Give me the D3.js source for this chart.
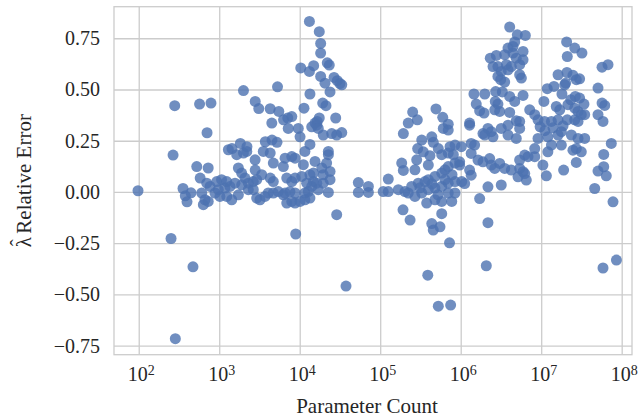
<!DOCTYPE html>
<html>
<head>
<meta charset="utf-8">
<script src="https://cdn.jsdelivr.net/npm/d3@7"></script>
<style>
  body { margin: 0; background: #fff; }
  svg { display: block; }
</style>
</head>
<body>
<svg id="chart" width="639" height="420"></svg>
<script>
// Parameter count of each model and the relative error of its λ̂ estimate
const paramCount = [
  2.0e3, 5.3e3, 2.8e2, 5.7e2, 7.9e2, 2.8e3, 3.1e3, 4.3e3, 5.5e3, 4.5e3, 6.3e3,
  1.32e4, 1.75e4, 1.82e4, 1.82e4, 2.2e4, 2.33e4, 1.03e4, 1.32e4, 1.49e4, 1.82e4,
  2.06e4, 2.67e4, 2.93e4, 3.16e4, 3.33e4, 1.34e4, 2.38e4, 1.13e4, 1.93e4, 2.12e4,
  7.97e3, 7.1e3, 2.8e4, 1.75e4, 1.65e4, 1.55e4,
  2.53e5, 2.89e5, 2.23e5, 4.93e5, 5.98e5, 7.0e5,
  4.06e6, 5.05e6, 6.35e6, 4.69e6, 4.46e6, 3.87e6, 5.95e6, 2.33e6, 2.77e6, 3.52e6,
  4.46e6, 4.9e6, 5.95e6, 5.4e6, 2.52e6, 2.9e6, 3.69e6, 4.25e6, 3.19e6, 3.87e6,
  5.4e6, 5.67e6, 2.9e6, 3.14e6, 3.52e6, 2.72e6, 3.29e6, 1.46e6, 1.99e6, 4.06e6,
  4.69e6, 5.95e6, 1.56e6, 1.72e6, 1.95e6, 2.69e6, 2.9e6, 2.65e6, 3.05e6, 4.06e6,
  7.2e6, 8.31e6, 1.29e6, 4.9e6, 5.4e6,
  2.07e7, 2.61e7, 3.21e7, 2.11e7, 5.7e7, 6.76e7, 1.62e7, 2.09e7, 2.48e7, 2.73e7,
  3.0e7, 2.01e7, 1.96e7, 1.19e7, 1.44e7, 1.81e7, 5.08e7, 1.08e7, 2.33e7, 2.65e7,
  3.0e7, 3.4e7, 2.15e7, 5.7e7, 6.16e7, 1.54e7, 1.7e7, 2.61e7, 2.87e7, 3.15e7,
  3.47e7, 5.08e7, 5.86e7, 9.13e6, 1.1e7, 1.34e7, 1.62e7, 2.11e7, 2.61e7, 2.87e7,
  9.7e6, 1.4e7, 1.87e7, 1.11e7,
  7.06e2, 2.67e2, 98, 2.52e2, 3.55e2, 4.46e2, 3.79e2, 3.98e2,
  1.44e3, 1.83e3, 2.21e3, 3.74e3, 4.53e3, 5.22e3, 7.2e3, 9.6e3,
  1.01e4, 1.41e4, 1.63e4, 1.7e4, 1.96e4, 2.5e4, 2.88e4, 3.33e4, 1.34e4,
  1.94e5, 3.28e5, 4.37e5, 4.56e5, 6.08e5, 7.0e5, 2.92e5, 5.27e5, 7.37e5, 8.5e5,
  2.88e4, 8.92e3, 2.35e5, 4.37e5, 4.56e5, 5.53e5, 5.81e5, 7.26e5, 1.92e5,
  1.29e6, 2.18e6, 2.4e6, 1.89e6, 1.99e6, 2.52e6, 3.19e6, 3.87e6, 3.87e6, 4.9e6,
  5.4e6, 9.13e6, 1.21e7, 1.62e7, 1.78e7, 2.37e7, 2.87e7, 3.47e7, 1.34e7, 1.78e7,
  2.48e7, 3.15e7, 2.73e7, 1.21e7, 8.31e6, 8.31e6, 1.05e7, 6.24e6, 6.86e6, 5.4e6,
  5.4e6, 5.95e6, 6.24e6, 6.53e6, 5.15e6, 4.25e6, 3.52e6, 1.16e7, 1.9e7, 2.73e7,
  7.43e7, 5.98e7, 5.98e7, 5.08e7, 6.44e7, 4.62e7, 7.8e7,
  1.02e6, 9.7e5, 9.7e5, 1.35e6, 1.49e6, 1.35e6, 1.64e6, 1.89e6, 2.29e6, 2.4e6,
  3.05e6, 2.65e6, 1.29e6, 1.35e6, 1.12e6, 2.18e6, 3.19e6, 1.72e6, 2.18e6,
  4.72e2, 2.85e2, 3.76e4, 3.9e5, 5.27e5, 7.5e5, 2.08e6, 5.86e7, 8.6e7,
  5.26e2, 7.3e2, 5.8e2, 7.0e2, 7.7e2, 6.07e2, 6.66e2, 6.35e2, 7.3e2, 9.32e2,
  1.07e3, 1.24e3, 9.75e2, 1.18e3, 1.36e3, 1.57e3, 1.02e3, 1.24e3, 1.43e3, 1.73e3,
  8.87e2, 1.73e3, 1.9e3, 2.09e3, 2.3e3, 2.65e3, 1.9e3, 2.3e3, 2.65e3, 2.92e3,
  3.21e3, 3.7e3, 4.07e3, 4.7e3, 5.42e3, 6.26e3, 6.58e3, 7.56e3, 8.75e3,
  1.3e3, 1.65e3, 2.0e3, 2.2e3, 3.53e3, 4.3e3, 2.79e3, 4.7e3, 6.26e3, 6.58e3,
  7.97e3, 8.75e3, 1.16e4, 1.11e4, 3.37e3, 4.3e3, 4.7e3, 2.92e3, 6.9e3, 7.97e3,
  8.75e3, 1.06e4, 1.34e4, 1.48e4, 1.48e4, 1.22e4, 1.41e4, 1.63e4, 1.96e4, 1.7e4,
  1.28e4, 1.16e4, 2.27e4, 6.9e3, 7.97e3, 8.75e3, 1.01e4, 1.16e4, 1.34e4,
  1.55e4, 2.16e4, 2.27e4, 2.27e4, 2.38e4, 1.88e4, 1.96e4, 2.38e4,
  5.35e4, 7.13e4, 5.35e4, 7.13e4, 1.09e5, 1.26e5, 1.26e5,
  1.85e5, 1.94e5, 2.7e5, 2.84e5, 4.15e5, 5.81e5, 7.0e5, 8.1e5, 1.68e5, 2.03e5,
  2.46e5, 2.97e5, 3.6e5, 3.96e5, 4.79e5, 5.81e5, 6.38e5, 7.0e5, 8.5e5, 2.23e5,
  2.7e5, 3.28e5, 3.96e5, 4.79e5, 5.81e5, 7.0e5, 8.5e5, 1.03e6, 3.78e5, 4.79e5,
  5.81e5, 7.74e5, 8.5e5, 7.0e5, 3.43e5, 3.96e5, 5.22e5, 6.38e5, 4.4e5, 7.8e5,
  3.12e5, 2.8e3
];

const relError = [
  0.495, 0.513, 0.421, 0.429, 0.434, 0.442, 0.407, 0.406, 0.393, 0.336, 0.352,
  0.832, 0.782, 0.725, 0.678, 0.630, 0.619, 0.605, 0.588, 0.616, 0.564,
  0.531, 0.559, 0.543, 0.529, 0.523, 0.478, 0.488, 0.409, 0.434, 0.421,
  0.368, 0.361, 0.361, 0.361, 0.344, 0.336,
  0.390, 0.352, 0.336, 0.405, 0.364, 0.331,
  0.805, 0.767, 0.764, 0.732, 0.710, 0.702, 0.686, 0.653, 0.666, 0.670,
  0.678, 0.653, 0.645, 0.621, 0.612, 0.612, 0.621, 0.612, 0.588, 0.596,
  0.572, 0.556, 0.564, 0.548, 0.536, 0.490, 0.488, 0.478, 0.478, 0.466,
  0.442, 0.471, 0.429, 0.396, 0.385, 0.442, 0.429, 0.401, 0.393, 0.388,
  0.401, 0.377, 0.336, 0.347, 0.344,
  0.732, 0.702, 0.678, 0.661, 0.609, 0.621, 0.572, 0.583, 0.569, 0.548,
  0.552, 0.531, 0.523, 0.504, 0.515, 0.478, 0.507, 0.442, 0.450, 0.466,
  0.458, 0.429, 0.426, 0.434, 0.422, 0.417, 0.401, 0.409, 0.393, 0.377,
  0.377, 0.377, 0.344, 0.352, 0.344, 0.344, 0.352, 0.352, 0.352, 0.344,
  0.318, 0.313, 0.323, 0.299,
  0.289, 0.180, 0.006, -0.227, 0.017, -0.004, -0.019, -0.048,
  0.212, 0.237, 0.221, 0.245, 0.253, 0.242, 0.310, 0.310,
  0.269, 0.318, 0.326, 0.310, 0.278, 0.285, 0.278, 0.290, 0.232,
  0.285, 0.253, 0.269, 0.242, 0.310, 0.302, 0.212, 0.212, 0.221, 0.229,
  -0.111, -0.205, -0.137, -0.154, -0.186, -0.170, -0.106, -0.248, -0.087,
  0.326, 0.310, 0.294, 0.285, 0.278, 0.269, 0.310, 0.278, 0.326, 0.261,
  0.310, 0.261, 0.269, 0.278, 0.294, 0.278, 0.261, 0.261, 0.229, 0.229,
  0.204, 0.196, 0.212, 0.196, 0.212, 0.172, 0.131, 0.180, 0.172, 0.156,
  0.115, 0.099, 0.090, 0.058, 0.074, 0.107, 0.115, 0.079, 0.107, 0.144,
  0.237, 0.183, 0.123, 0.102, 0.079, 0.017, -0.048,
  0.221, 0.147, 0.131, 0.237, 0.229, 0.188, 0.156, 0.147, 0.163, 0.131,
  0.139, 0.115, 0.107, 0.082, 0.041, 0.025, 0.034, -0.032, -0.150,
  -0.365, -0.716, -0.459, -0.406, -0.557, -0.552, -0.360, -0.371, -0.332,
  0.124, 0.117, 0.068, 0.043, 0.027, -0.005, -0.038, -0.062, -0.046, 0.051,
  0.060, 0.051, 0.011, 0.019, 0.027, 0.043, -0.022, -0.022, -0.038, -0.014,
  -0.005, 0.117, 0.092, 0.068, 0.043, 0.051, 0.035, 0.011, 0.011, -0.030,
  -0.038, -0.022, -0.005, -0.005, 0.002, -0.014, -0.005, 0.002, -0.005,
  0.206, 0.182, 0.190, 0.198, 0.198, 0.190, 0.157, 0.141, 0.124, 0.165,
  0.173, 0.165, 0.198, 0.133, 0.084, 0.068, 0.051, 0.060, 0.068, 0.051,
  0.068, 0.076, 0.084, 0.092, 0.051, 0.043, 0.027, 0.043, 0.043, 0.011,
  0.002, -0.005, -0.002, -0.054, -0.046, -0.054, -0.046, -0.038, -0.030,
  0.149, 0.141, 0.182, 0.198, 0.100, 0.117, 0.084, 0.060,
  0.046, 0.027, -0.002, -0.002, 0.002, 0.002, 0.063,
  0.141, 0.105, 0.108, 0.157, 0.177, 0.182, 0.190, 0.182, 0.011, 0.002,
  0.027, 0.043, 0.051, 0.060, 0.076, 0.092, 0.108, 0.124, 0.141, -0.005,
  -0.022, -0.005, 0.011, 0.019, 0.027, 0.043, 0.051, 0.051, -0.054, -0.038,
  -0.046, -0.046, -0.005, -0.005, 0.196, 0.131, -0.014, 0.060, 0.040, 0.084,
  0.020, 0.107
];

const xTickExponents = [2, 3, 4, 5, 6, 7, 8];
const yTickValues = [-0.75, -0.5, -0.25, 0, 0.25, 0.5, 0.75];
const xDomain = [49.3, 1.343e8];
const yDomain = [-0.794, 0.904];
const xTitle = "Parameter Count";
const yTitle = "Relative Error";

const W = 639, H = 420;
const margin = { top: 6.7, right: 7, bottom: 65.3, left: 114 };
const plotW = W - margin.left - margin.right;
const plotH = H - margin.top - margin.bottom;

const FONT = "'Liberation Serif', 'Times New Roman', Times, serif";
const GRID = "#cccccc";
const INK = "#262626";
const DOT = "#4c72b0";

const svg = d3.select("#chart");

const x = d3.scaleLog().domain(xDomain).range([margin.left, W - margin.right]);
const y = d3.scaleLinear().domain(yDomain).range([H - margin.bottom, margin.top]);

// x axis: gridlines across the plot and 10^n labels
const gx = svg.append("g")
  .attr("transform", `translate(0,${H - margin.bottom})`)
  .call(d3.axisBottom(x)
    .tickValues(xTickExponents.map(e => Math.pow(10, e)))
    .tickSize(-plotH)
    .tickFormat(""));
gx.select(".domain").remove();
gx.selectAll(".tick line").attr("stroke", GRID).attr("stroke-width", 1.3);
gx.selectAll(".tick").each(function (d, i) {
  const t = d3.select(this).select("text")
    .attr("y", 26).attr("dy", null).attr("x", 2)
    .attr("font-family", FONT).attr("font-size", 20).attr("fill", INK)
    .attr("text-anchor", "middle");
  t.append("tspan").text("10");
  t.append("tspan").attr("dy", "-0.42em").attr("font-size", 14).text(xTickExponents[i]);
});

// y axis: gridlines and fixed two-decimal labels
const gy = svg.append("g")
  .attr("transform", `translate(${margin.left},0)`)
  .call(d3.axisLeft(y)
    .tickValues(yTickValues)
    .tickSize(-plotW)
    .tickPadding(14)
    .tickFormat(d3.format(".2f")));
gy.select(".domain").remove();
gy.selectAll(".tick line").attr("stroke", GRID).attr("stroke-width", 1.3);
gy.selectAll(".tick text")
  .attr("font-family", FONT).attr("font-size", 20).attr("fill", INK);

// plot frame
svg.append("rect")
  .attr("x", margin.left).attr("y", margin.top)
  .attr("width", plotW).attr("height", plotH)
  .attr("fill", "none").attr("stroke", GRID).attr("stroke-width", 1.3);

// points
svg.append("g")
  .selectAll("circle")
  .data(paramCount.map((p, i) => [p, relError[i]]))
  .join("circle")
  .attr("cx", d => x(d[0]))
  .attr("cy", d => y(d[1]))
  .attr("r", 5.5)
  .attr("fill", DOT)
  .attr("fill-opacity", 0.8);

// axis titles
svg.append("text")
  .attr("x", 367).attr("y", 413)
  .attr("text-anchor", "middle")
  .attr("font-family", FONT).attr("font-size", 21).attr("fill", INK)
  .text(xTitle);

// y title: lambda with a hat above it, then the words
const yt = svg.append("text")
  .attr("transform", `translate(31,${margin.top + plotH / 2}) rotate(-90)`)
  .attr("text-anchor", "middle")
  .attr("font-family", FONT).attr("font-size", 21).attr("fill", INK);
yt.append("tspan").text("\u03BB");
yt.append("tspan").attr("dx", "-0.44em").attr("dy", "-0.28em").text("\u02C6");
yt.append("tspan").attr("dx", "0.02em").attr("dy", "0.28em").text(" " + yTitle);
</script>
</body>
</html>
